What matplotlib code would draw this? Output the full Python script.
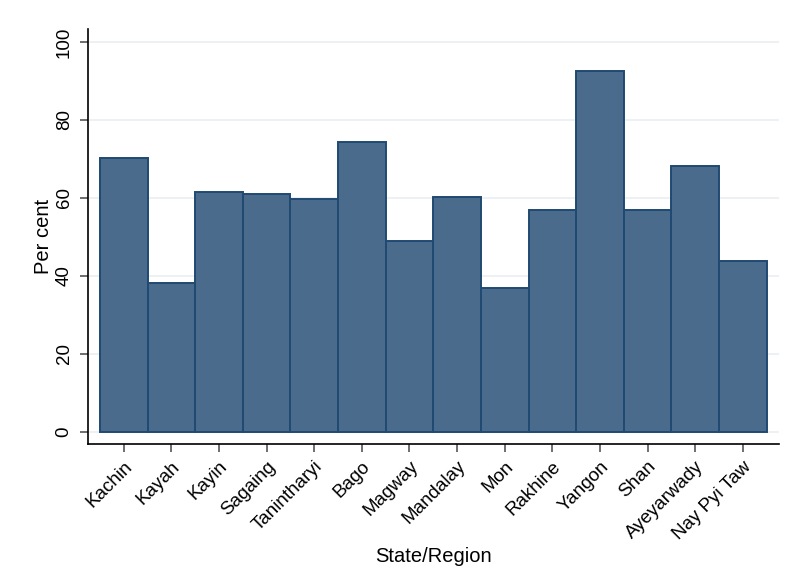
import matplotlib
matplotlib.use("Agg")
import matplotlib.pyplot as plt
import numpy as np

regions = ["Kachin", "Kayah", "Kayin", "Sagaing", "Tanintharyi", "Bago", "Magway",
           "Mandalay", "Mon", "Rakhine", "Yangon", "Shan", "Ayeyarwady", "Nay Pyi Taw"]
per_cent = [70.3, 38.1, 61.6, 60.9, 59.6, 74.4, 49.0,
            60.3, 36.9, 56.8, 92.6, 57.0, 68.3, 43.8]
y_ticks = [0, 20, 40, 60, 80, 100]

plt.rcParams["font.family"] = ["Liberation Sans", "DejaVu Sans"]

fig = plt.figure(figsize=(7.9, 5.8), dpi=100)
ax = fig.add_axes([88 / 790, 1 - 444 / 580, (779 - 88) / 790, (444 - 29) / 580])

x = np.arange(len(regions))
ax.bar(x, per_cent, width=1.0, color="#4a6b8c", edgecolor="#1f4a72",
       linewidth=1.4, zorder=3)

ax.set_xlim(-0.75, len(regions) - 0.24)
ax.set_ylim(-3.08, 103.3)
ax.set_yticks(y_ticks)
ax.set_yticklabels([str(t) for t in y_ticks], rotation=90, va="center", fontsize=13.5)
ax.set_xticks(x)
ax.set_xticklabels(regions, rotation=45, ha="right", rotation_mode="anchor", fontsize=13.5)

ax.grid(axis="y", color="#eaeff2", linewidth=1.2, zorder=0)
ax.tick_params(axis="both", direction="out", length=6, width=1.2, color="#555555")
ax.tick_params(axis="x", pad=4)
ax.tick_params(axis="y", pad=5)

for side in ["top", "right"]:
    ax.spines[side].set_visible(False)
for side in ["left", "bottom"]:
    ax.spines[side].set_linewidth(1.2)
    ax.spines[side].set_color("#000000")

ax.set_xlabel("State/Region", fontsize=14.5, labelpad=3)
ax.set_ylabel("Per cent", fontsize=14.5, labelpad=2)

fig.savefig("out.png", dpi=100, facecolor="white")
